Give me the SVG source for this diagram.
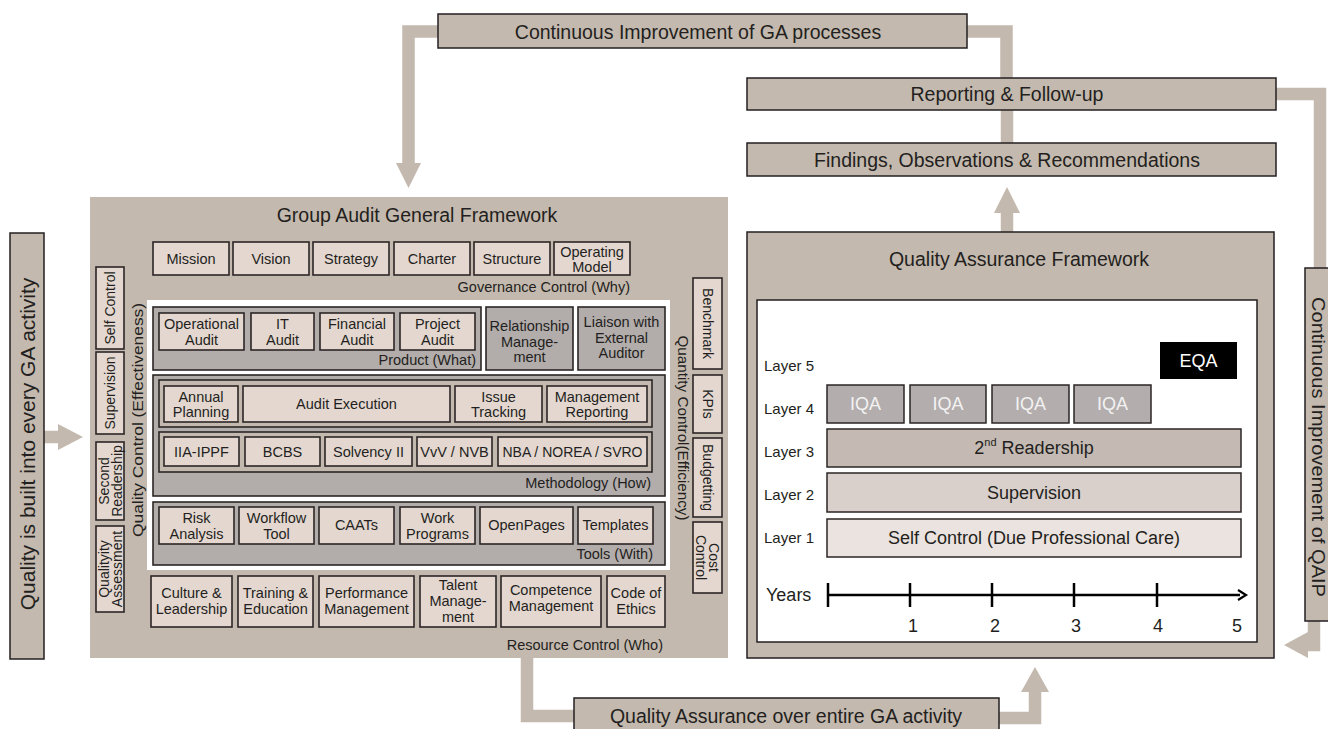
<svg xmlns="http://www.w3.org/2000/svg" width="1328" height="729" viewBox="0 0 1328 729">
<style>
.tan{fill:#c4b9ae}
.ban{fill:#c4b9ae;stroke:#231f20;stroke-width:1.5}
.bx{fill:#e3d7d0;stroke:#2b2626;stroke-width:1.6}
.pnl{fill:#b2acab;stroke:#2b2626;stroke-width:1.6}
.row{fill:#c4b9ae;stroke:#2b2626;stroke-width:1.6}
.conn{fill:none;stroke:#c4b9ae;stroke-width:12.5}
.head{fill:#c4b9ae}
text{font-family:"Liberation Sans",Arial,sans-serif;fill:#231f20;dominant-baseline:central}
.t{font-size:14.5px;text-anchor:middle}
.tr{font-size:14.5px;text-anchor:end}
.ti{font-size:19.5px;text-anchor:middle}
.v{font-size:14px;text-anchor:middle}
.qa{font-size:18px;text-anchor:middle}
.ly{font-size:15px;text-anchor:start}
</style>
<rect width="1328" height="729" fill="#ffffff"/>
<g id="connectors">
<path class="conn" d="M438,31.5 H408.5 V166"/>
<polygon class="head" points="396,163 421,163 408.5,188"/>
<path class="conn" d="M967,31.5 H1006.5 V78"/>
<path class="conn" d="M1007,110 V143"/>
<path class="conn" d="M1007,232 V211"/>
<polygon class="head" points="994,213 1020,213 1007,187"/>
<path class="conn" d="M1276,94 H1320 V268"/>
<path class="conn" d="M1314,621 V645 H1306"/>
<polygon class="head" points="1308,632 1284,645 1308,658"/>
<path class="conn" d="M527,658 V716 H574"/>
<path class="conn" d="M999,718 H1035 V690"/>
<polygon class="head" points="1021,692 1049,692 1035,667"/>
<path class="conn" d="M44,437 H60"/>
<polygon class="head" points="58,424 83,437 58,450"/>
</g>
<g id="ci-ga">
<rect class="ban" x="438" y="14" width="529" height="34"/>
<text class="ti" x="698" y="31.5">Continuous Improvement of GA processes</text>
</g>
<g id="reporting">
<rect class="ban" x="747" y="78" width="529" height="32"/>
<text class="ti" x="1007" y="94">Reporting &amp; Follow-up</text>
</g>
<g id="findings">
<rect class="ban" x="747" y="143" width="529" height="33"/>
<text class="ti" x="1007" y="160">Findings, Observations &amp; Recommendations</text>
</g>
<g id="qa-entire">
<rect class="ban" x="574" y="698" width="425" height="40"/>
<text class="ti" x="786" y="716">Quality Assurance over entire GA activity</text>
</g>
<g id="quality-built">
<rect class="ban" x="10" y="233" width="34" height="426"/>
<text class="ti" style="font-size:21px" transform="translate(27,444) rotate(-90)">Quality is built into every GA activity</text>
</g>
<g id="qaip">
<rect class="ban" x="1305" y="268" width="30" height="353"/>
<text class="ti" style="font-size:18px" textLength="300" lengthAdjust="spacingAndGlyphs" transform="translate(1317.5,447) rotate(90)" x="0" y="0">Continuous Improvement of QAIP</text>
</g>
<g id="ga-framework">
<rect class="tan" x="90" y="197" width="638" height="461"/>
<text class="ti" x="417" y="215">Group Audit General Framework</text>
<rect x="147" y="300" width="523" height="270" fill="#ffffff"/>
</g>
<g id="governance">
<rect class="bx" x="153" y="242" width="76" height="33"/><text class="t" x="191" y="259">Mission</text>
<rect class="bx" x="233" y="242" width="76" height="33"/><text class="t" x="271" y="259">Vision</text>
<rect class="bx" x="313" y="242" width="76" height="33"/><text class="t" x="351" y="259">Strategy</text>
<rect class="bx" x="394" y="242" width="76" height="33"/><text class="t" x="432" y="259">Charter</text>
<rect class="bx" x="474" y="242" width="76" height="33"/><text class="t" x="512" y="259">Structure</text>
<rect class="bx" x="554" y="242" width="76" height="33"/><text class="t" x="592" y="251.5">Operating</text><text class="t" x="592" y="266.5">Model</text>
<text class="tr" x="630" y="287">Governance Control (Why)</text>
</g>
<g id="product">
<rect class="pnl" x="153" y="307" width="328" height="63"/>
<rect class="bx" x="159" y="313" width="85" height="37"/><text class="t" x="201.5" y="324">Operational</text><text class="t" x="201.5" y="340">Audit</text>
<rect class="bx" x="251" y="313" width="63" height="37"/><text class="t" x="282.5" y="324">IT</text><text class="t" x="282.5" y="340">Audit</text>
<rect class="bx" x="320" y="313" width="74" height="37"/><text class="t" x="357" y="324">Financial</text><text class="t" x="357" y="340">Audit</text>
<rect class="bx" x="400" y="313" width="75" height="37"/><text class="t" x="437.5" y="324">Project</text><text class="t" x="437.5" y="340">Audit</text>
<text class="tr" x="476" y="360">Product (What)</text>
</g>
<g id="relationship">
<rect class="pnl" x="486" y="307" width="87" height="63"/>
<text class="t" x="529.5" y="326">Relationship</text><text class="t" x="529.5" y="342">Manage-</text><text class="t" x="529.5" y="357">ment</text>
</g>
<g id="liaison">
<rect class="pnl" x="578" y="307" width="87" height="63"/>
<text class="t" x="621.5" y="321.5">Liaison with</text><text class="t" x="621.5" y="337.5">External</text><text class="t" x="621.5" y="353">Auditor</text>
</g>
<g id="methodology">
<rect class="pnl" x="153" y="375" width="512" height="121"/>
<rect class="row" x="159" y="380" width="493" height="47"/>
<rect class="bx" x="164" y="386" width="74" height="36"/><text class="t" x="201" y="396.5">Annual</text><text class="t" x="201" y="412">Planning</text>
<rect class="bx" x="243" y="386" width="207" height="36"/><text class="t" x="346.5" y="404">Audit Execution</text>
<rect class="bx" x="455" y="386" width="87" height="36"/><text class="t" x="498.5" y="396.5">Issue</text><text class="t" x="498.5" y="412">Tracking</text>
<rect class="bx" x="547" y="386" width="100" height="36"/><text class="t" x="597" y="396.5">Management</text><text class="t" x="597" y="412">Reporting</text>
<rect class="row" x="159" y="432" width="493" height="40"/>
<rect class="bx" x="164" y="437" width="75" height="29"/><text class="t" x="201.5" y="452">IIA-IPPF</text>
<rect class="bx" x="245" y="437" width="75" height="29"/><text class="t" x="282.5" y="452">BCBS</text>
<rect class="bx" x="325" y="437" width="87" height="29"/><text class="t" x="368.5" y="452">Solvency II</text>
<rect class="bx" x="417" y="437" width="75" height="29"/><text class="t" x="454.5" y="452">VvV / NVB</text>
<rect class="bx" x="498" y="437" width="149" height="29"/><text class="t" x="572.5" y="452" style="font-size:14px">NBA / NOREA / SVRO</text>
<text class="tr" x="651" y="483">Methodology (How)</text>
</g>
<g id="tools">
<rect class="pnl" x="153" y="502" width="512" height="63"/>
<rect class="bx" x="159" y="507" width="75" height="37"/><text class="t" x="196.5" y="518">Risk</text><text class="t" x="196.5" y="534">Analysis</text>
<rect class="bx" x="239" y="507" width="75" height="37"/><text class="t" x="276.5" y="518">Workflow</text><text class="t" x="276.5" y="534">Tool</text>
<rect class="bx" x="319" y="507" width="75" height="37"/><text class="t" x="356.5" y="525">CAATs</text>
<rect class="bx" x="400" y="507" width="75" height="37"/><text class="t" x="437.5" y="518">Work</text><text class="t" x="437.5" y="534">Programs</text>
<rect class="bx" x="480" y="507" width="93" height="37"/><text class="t" x="526.5" y="525">OpenPages</text>
<rect class="bx" x="578" y="507" width="75" height="37"/><text class="t" x="615.5" y="525">Templates</text>
<text class="tr" x="653" y="554">Tools (With)</text>
</g>
<g id="resource">
<rect class="bx" x="151" y="576" width="81" height="51"/><text class="t" x="191.5" y="593">Culture &amp;</text><text class="t" x="191.5" y="609">Leadership</text>
<rect class="bx" x="238" y="576" width="75" height="51"/><text class="t" x="275.5" y="593">Training &amp;</text><text class="t" x="275.5" y="609">Education</text>
<rect class="bx" x="319" y="576" width="95" height="51"/><text class="t" x="366.5" y="593">Performance</text><text class="t" x="366.5" y="609">Management</text>
<rect class="bx" x="420" y="576" width="76" height="51"/><text class="t" x="458" y="585">Talent</text><text class="t" x="458" y="601">Manage-</text><text class="t" x="458" y="617">ment</text>
<rect class="bx" x="501" y="576" width="100" height="51"/><text class="t" x="551" y="590">Competence</text><text class="t" x="551" y="606">Management</text>
<rect class="bx" x="607" y="576" width="58" height="51"/><text class="t" x="636" y="593">Code of</text><text class="t" x="636" y="609">Ethics</text>
<text class="tr" x="663" y="645">Resource Control (Who)</text>
</g>
<g id="quality-control">
<rect class="bx" x="96" y="267" width="28" height="82"/><text class="v" transform="translate(110,308) rotate(-90)">Self Control</text>
<rect class="bx" x="96" y="352" width="28" height="82"/><text class="v" transform="translate(110,393) rotate(-90)">Supervision</text>
<rect class="bx" x="96" y="442" width="28" height="78"/><text class="v" transform="translate(110,481) rotate(-90)"><tspan x="0" y="-6.5">Second</tspan><tspan x="0" y="6.5">Readership</tspan></text>
<rect class="bx" x="96" y="526" width="28" height="86"/><text class="v" transform="translate(110,569) rotate(-90)"><tspan x="0" y="-6.5">Qualityity</tspan><tspan x="0" y="6.5">Assessment</tspan></text>
<text class="v" style="font-size:15px" textLength="234" lengthAdjust="spacingAndGlyphs" transform="translate(137,420) rotate(-90)">Quality Control (Effectiveness)</text>
</g>
<g id="quantity-control">
<rect class="bx" x="693" y="278" width="29" height="91"/><text class="v" transform="translate(707.5,323.5) rotate(90)">Benchmark</text>
<rect class="bx" x="693" y="375" width="29" height="58"/><text class="v" transform="translate(707.5,404) rotate(90)">KPIs</text>
<rect class="bx" x="693" y="438" width="29" height="79"/><text class="v" transform="translate(707.5,477.5) rotate(90)">Budgetting</text>
<rect class="bx" x="693" y="522" width="29" height="71"/><text class="v" transform="translate(707.5,557.5) rotate(90)"><tspan x="0" y="-6.5">Cost</tspan><tspan x="0" y="6.5">Control</tspan></text>
<text class="v" style="font-size:15px" textLength="185" lengthAdjust="spacingAndGlyphs" transform="translate(683,428) rotate(90)">Quantity Control(Efficiency)</text>
</g>
<g id="qa-framework">
<rect class="ban" x="747" y="232" width="527" height="426"/>
<text class="ti" x="1019" y="259">Quality Assurance Framework</text>
<rect x="757" y="300" width="500" height="342" fill="#ffffff" stroke="#231f20" stroke-width="1.5"/>
<text class="ly" x="764" y="365">Layer 5</text>
<text class="ly" x="764" y="408">Layer 4</text>
<text class="ly" x="764" y="451">Layer 3</text>
<text class="ly" x="764" y="494">Layer 2</text>
<text class="ly" x="764" y="537">Layer 1</text>
<rect x="1160" y="342" width="77" height="37" fill="#000000"/>
<text class="qa" x="1198.5" y="360.5" style="fill:#ffffff">EQA</text>
<g fill="#b3adad" stroke="#2b2626" stroke-width="1.5">
<rect x="827" y="385" width="77" height="38"/>
<rect x="910" y="385" width="76" height="38"/>
<rect x="992" y="385" width="77" height="38"/>
<rect x="1074" y="385" width="77" height="38"/>
</g>
<text class="qa" x="865.5" y="404" style="fill:#f2f2f2">IQA</text>
<text class="qa" x="948" y="404" style="fill:#f2f2f2">IQA</text>
<text class="qa" x="1030.5" y="404" style="fill:#f2f2f2">IQA</text>
<text class="qa" x="1112.5" y="404" style="fill:#f2f2f2">IQA</text>
<rect x="827" y="429" width="414" height="38" fill="#c4bab3" stroke="#2b2626" stroke-width="1.5"/>
<text class="qa" x="1034" y="448">2<tspan font-size="11" baseline-shift="super">nd</tspan> Readership</text>
<rect x="827" y="473" width="414" height="39" fill="#d9d0cc" stroke="#2b2626" stroke-width="1.5"/>
<text class="qa" x="1034" y="493">Supervision</text>
<rect x="827" y="519" width="414" height="38" fill="#ebe3df" stroke="#2b2626" stroke-width="1.5"/>
<text class="qa" x="1034" y="538">Self Control (Due Professional Care)</text>
<text class="ly" x="766" y="595" style="font-size:18px">Years</text>
<g stroke="#000000" stroke-width="2.5">
<line x1="827" y1="595" x2="1240" y2="595"/>
<line x1="828" y1="583" x2="828" y2="607"/>
<line x1="910" y1="583" x2="910" y2="607"/>
<line x1="992" y1="583" x2="992" y2="607"/>
<line x1="1074" y1="583" x2="1074" y2="607"/>
<line x1="1157" y1="583" x2="1157" y2="607"/>
</g>
<polyline points="1238,590 1246,595 1238,600" fill="none" stroke="#000000" stroke-width="2.2"/>
<text class="qa" x="913" y="626">1</text>
<text class="qa" x="995" y="626">2</text>
<text class="qa" x="1076" y="626">3</text>
<text class="qa" x="1158" y="626">4</text>
<text class="qa" x="1237" y="626">5</text>
</g>
</svg>
